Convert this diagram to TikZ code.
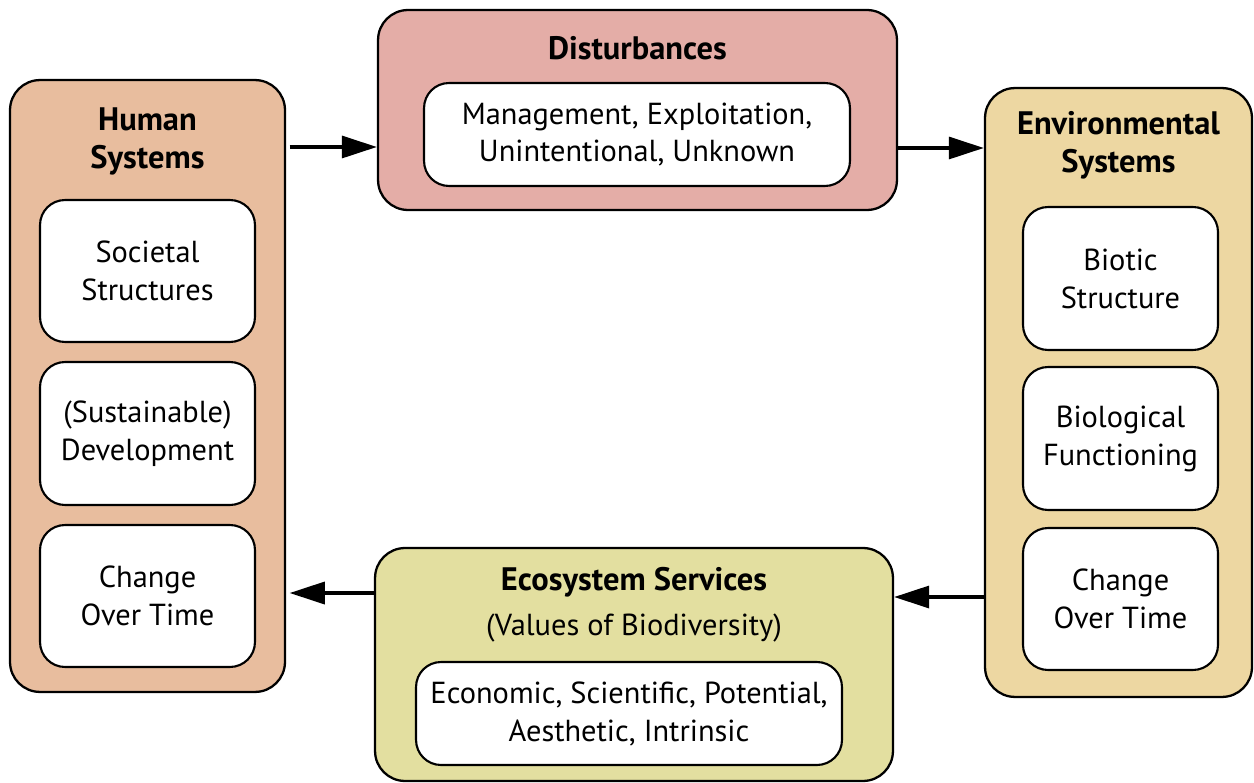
\documentclass[tikz,border=0pt]{standalone}
\usepackage{fontspec}
\setmainfont{PT Sans}
\usepackage{tikz}
\usetikzlibrary{arrows.meta,positioning,shapes,calc}

\definecolor{humanfill}{HTML}{E8BD9E}
\definecolor{distfill}{HTML}{E4ADA7}
\definecolor{envfill}{HTML}{EDD7A2}
\definecolor{ecofill}{HTML}{E3DFA0}

\tikzset{
  outerbox/.style = {draw, line width = 1.3pt, rounded corners = .6cm, inner sep = 0pt},
  innerbox/.style = {draw, fill = white, line width = 1.2pt, rounded corners = .5cm,
                     align = center, inner sep = 0pt, font = \fontsize{17.3}{21.6}\selectfont},
  title/.style = {align = center, font = \fontsize{18.5}{21.6}\selectfont\bfseries},
  flow/.style = {line width = 2pt, -{Triangle[length = 20pt, width = 12.5pt]}}
}

\begin{document}
\begin{tikzpicture}[x = .02cm, y = .02cm]
    \useasboundingbox (0,0) rectangle (1254,782);
    % Outer boxes
    \node[outerbox, fill = humanfill, minimum width = 5.5cm, minimum height = 12.24cm] (human) at (147.5,396) {};
    \node[outerbox, fill = distfill, minimum width = 10.38cm, minimum height = 4cm] (dist) at (637.5,672) {};
    \node[outerbox, fill = envfill, minimum width = 5.34cm, minimum height = 12.18cm] (env) at (1118.5,389.5) {};
    \node[outerbox, fill = ecofill, minimum width = 10.36cm, minimum height = 4.66cm] (eco) at (634,117.5) {};
    % Titles
    \node[title] (humantitle) at (147.5,641) {Human\\Systems};
    \node[title] (disttitle) at (637.5,734) {Disturbances};
    \node[title] (envtitle) at (1118.5,637) {Environmental\\Systems};
    \node[title] (ecotitle) at (634,200) {Ecosystem Services};
    \node[font = \fontsize{17.3}{21.6}\selectfont] (ecosub) at (634,154) {(Values of Biodiversity)};
    % Inner boxes, human side
    \node[innerbox, minimum width = 4.3cm, minimum height = 2.84cm] (societal) at (147.5,511) {Societal\\Structures};
    \node[innerbox, minimum width = 4.3cm, minimum height = 2.86cm] (develop) at (147.5,348.5) {(Sustainable)\\Development};
    \node[innerbox, minimum width = 4.3cm, minimum height = 2.84cm] (humanchange) at (147.5,186) {Change\\Over Time};
    % Inner boxes, environment side
    \node[innerbox, minimum width = 3.9cm, minimum height = 2.86cm] (biotic) at (1120.5,503.5) {Biotic\\Structure};
    \node[innerbox, minimum width = 3.9cm, minimum height = 2.86cm] (biofunc) at (1120.5,343.5) {Biological\\Functioning};
    \node[innerbox, minimum width = 3.9cm, minimum height = 2.84cm] (envchange) at (1120.5,183) {Change\\Over Time};
    % Inner boxes, middle
    \node[innerbox, minimum width = 8.52cm, minimum height = 2.06cm] (distlist) at (637,647.5) {Management, Exploitation,\\Unintentional, Unknown};
    \node[innerbox, minimum width = 8.52cm, minimum height = 2.06cm] (ecolist) at (629,68.5) {Economic, Scientific, Potential,\\Aesthetic, Intrinsic};
    % Connectors
    \coordinate (a1) at ([yshift = -.74cm]dist.west);
    \coordinate (a2) at ([yshift = -.76cm]dist.east);
    \coordinate (a3) at ([yshift = 1.35cm]eco.east);
    \coordinate (a4) at ([yshift = 1.43cm]eco.west);
    \draw[flow] ([xshift = 2pt]human.east |- a1) -- (a1);
    \draw[flow] (a2) -- (env.west |- a2);
    \draw[flow] (env.west |- a3) -- (a3);
    \draw[flow] (a4) -- ([xshift = 2pt]human.east |- a4);
\end{tikzpicture}
\end{document}
